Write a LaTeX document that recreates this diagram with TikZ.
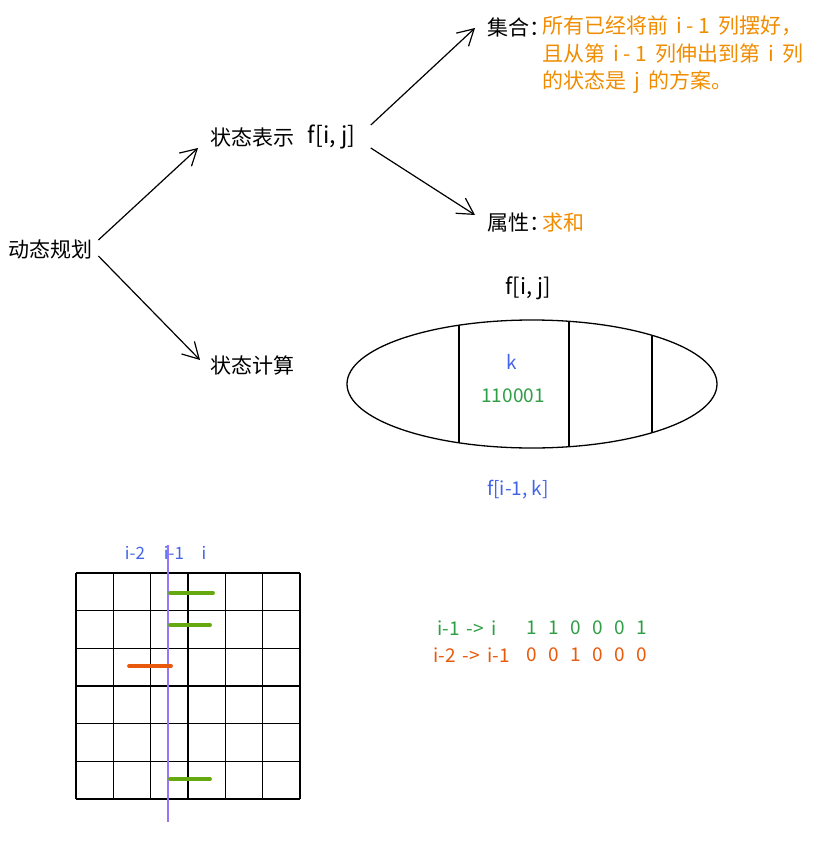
\documentclass[tikz,border=0pt]{standalone}
\usepackage{fontspec}
\setmainfont{Noto Sans CJK SC}
\usetikzlibrary{positioning,arrows.meta,shapes.geometric}

\definecolor{exorange}{HTML}{F08C00}
\definecolor{exblue}{HTML}{4263EB}
\definecolor{exgreen}{HTML}{2F9E44}
\definecolor{exlime}{HTML}{66A80F}
\definecolor{exred}{HTML}{E8590C}
\definecolor{expurple}{HTML}{9775FA}

\begin{document}
\begin{tikzpicture}[x=1pt, y=-1pt, >={Straight Barb[length=16pt,width=18pt]},
  font=\fontsize{21}{27.5}\selectfont,
  txt/.style={inner sep=0pt, anchor=west},
  small/.style={inner sep=0pt, font=\fontsize{19}{21}\selectfont},
  arr/.style={->, line width=1.2pt},
  gridline/.style={line width=1.6pt},
  stroke/.style={line width=3.8pt, line cap=round}]
\useasboundingbox (0,0) rectangle (814,848);
% tree of the method
\node[txt] (dp) at (8,249) {动态规划};
\node[txt] (rep) at (210,137) {状态表示};
\node[inner sep=0pt, minimum width=60pt, right=7pt of rep, font=\fontsize{23}{25}\selectfont] (repf) {f[i, j]};
\node[txt] (calc) at (210,365) {状态计算};
\node[txt] (set) at (487,27) {集合：};
\node[inner sep=0pt, anchor=north west, align=left, text=exorange] (setdesc) at (542,16)
  {所有已经将前 \,i - 1\, 列摆好，\\且从第 \,i - 1\, 列伸出到第 \,i\, 列\\的状态是 \,j\, 的方案。};
\node[txt] (prop) at (487,223) {属性：};
\node[txt, text=exorange] (propv) at (542,223) {求和};
\draw[arr] ([shift={(6pt,9pt)}]dp.east) -- ([shift={(-12pt,-11pt)}]rep.west);
\draw[arr] ([shift={(6pt,-7pt)}]dp.east) -- ([shift={(-10pt,5pt)}]calc.west);
\draw[arr] ([shift={(9pt,12pt)}]repf.east) -- ([shift={(-12pt,-1pt)}]set.west);
\draw[arr] ([shift={(9pt,-11pt)}]repf.east) -- ([shift={(-12pt,8pt)}]prop.west);
% the set f[i, j] split by k
\node[draw, ellipse, line width=1.3pt, minimum width=370pt, minimum height=128pt] (oval) at (532,384) {};
\begin{scope}
  \clip (532,384) ellipse [x radius=185pt, y radius=64pt];
  \foreach \cx in {459,569,652}
    \draw[line width=1.3pt] (\cx,300) -- (\cx,470);
\end{scope}
\node[font=\fontsize{22}{24}\selectfont] (ftop) at (528,288) {f[i, j]};
\node[small, text=exblue] (k) at (512,362) {k};
\node[small, text=exgreen] (bits) at (513,396) {110001};
\node[small, text=exblue] (fprev) at (518,490) {f[i-1, k]};
% board
\foreach \c in {0,...,6}
  \draw[gridline] ({76+\c*224/6},573) -- ({76+\c*224/6},799);
\foreach \r in {0,...,6}
  \draw[gridline] (76,{573+\r*226/6}) -- (300,{573+\r*226/6});
\draw[expurple, line width=1.6pt] (168,545) -- (168,822);
\foreach \x/\t [count=\n] in {135/i-2, 174/i-1, 204/i}
  \node[small, text=exblue, font=\fontsize{17}{19}\selectfont] (col\n) at (\x,553) {\t};
\foreach \y/\len in {593/213, 625/210, 779/210}
  \draw[stroke, exlime] (170,\y) -- (\len,\y);
\draw[stroke, exred] (129,666) -- (171,666);
% states of the two columns
\node[small, txt, text=exgreen] (rowa) at (437,628) {i-1 \,->\, i};
\foreach \d [count=\n] in {1,1,0,0,0,1}
  \node[small, text=exgreen] (a\n) at ({510+\n*22},628) {\d};
\node[small, txt, text=exred] (rowb) at (433,655) {i-2 \,->\, i-1};
\foreach \d [count=\n] in {0,0,1,0,0,0}
  \node[small, text=exred] (b\n) at ({510+\n*22},655) {\d};
\end{tikzpicture}
\end{document}
